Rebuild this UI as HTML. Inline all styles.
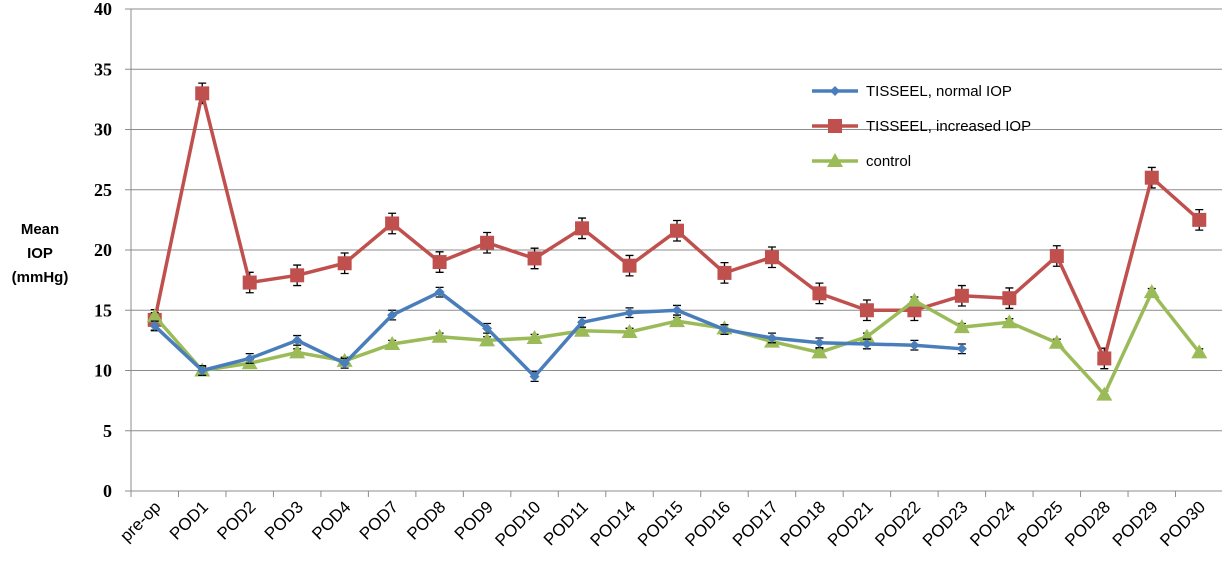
<!DOCTYPE html>
<html><head><meta charset="utf-8"><style>
body{margin:0;background:#fff;width:1222px;height:561px;overflow:hidden}
svg{display:block}
</style></head><body>
<svg id="chart" width="1222" height="561" xmlns="http://www.w3.org/2000/svg"></svg>
<script>
const categories=["pre-op","POD1","POD2","POD3","POD4","POD7","POD8","POD9","POD10","POD11","POD14","POD15","POD16","POD17","POD18","POD21","POD22","POD23","POD24","POD25","POD28","POD29","POD30"];
const normalValues=[13.7,10,11,12.5,10.6,14.6,16.5,13.5,9.5,14,14.8,15,13.4,12.7,12.3,12.2,12.1,11.8,null,null,null,null,null];
const increasedValues=[14.2,33,17.3,17.9,18.9,22.2,19,20.6,19.3,21.8,18.7,21.6,18.1,19.4,16.4,15,15,16.2,16,19.5,11,26,22.5];
const controlValues=[14.5,10,10.6,11.5,10.8,12.2,12.8,12.5,12.7,13.3,13.2,14.1,13.5,12.4,11.5,12.8,15.8,13.6,14,12.3,8,16.5,11.5];
const normalErr=0.4, increasedErr=0.85, controlErr=0.3;
const yTicks=[0,5,10,15,20,25,30,35,40];
const legendLabels=["TISSEEL, normal IOP","TISSEEL, increased IOP","control"];

const NS="http://www.w3.org/2000/svg";
const svg=document.getElementById('chart');
const L=131,R=1223,T=9,B=491,step=(R-L)/categories.length;
const xs=i=>L+step*(i+0.5);
const ys=v=>B-(v/40)*(B-T);
function mk(tag,a,parent){const e=document.createElementNS(NS,tag);for(const k in a)e.setAttribute(k,a[k]);(parent||svg).appendChild(e);return e;}

yTicks.forEach(t=>{
  if(t>0){const g=mk('line',{x1:L,x2:R,y1:ys(t),y2:ys(t),stroke:'#8c8c8c','stroke-width':1});
  
  }
  const tk=mk('line',{x1:L-6,x2:L,y1:ys(t),y2:ys(t),stroke:'#8c8c8c'});
  
  
  const tx=mk('text',{x:112,y:ys(t)+6,'text-anchor':'end','font-family':'Liberation Serif, serif','font-weight':'bold','font-size':18});
  tx.textContent=t;
  
  
});
const ax=mk('line',{x1:L,x2:L,y1:T,y2:B,stroke:'#8c8c8c'});


const xa=mk('line',{x1:L,x2:R,y1:B,y2:B,stroke:'#8c8c8c'});


categories.forEach((c,i)=>{
  const tk=mk('line',{x1:L+step*i,x2:L+step*i,y1:B,y2:B+6,stroke:'#8c8c8c'});
  
  
  const x=xs(i)+7,y=B+17;
  const tx=mk('text',{x:x,y:y,'text-anchor':'end','font-family':'Liberation Sans, sans-serif','font-size':17,transform:`rotate(-45 ${x} ${y})`});
  tx.textContent=c;
  
  
});
const yt=mk('text',{x:40,y:258,'text-anchor':'middle','font-family':'Liberation Sans, sans-serif','font-weight':'bold','font-size':15});


["Mean","IOP","(mmHg)"].forEach((s,k)=>{const sp=mk('tspan',{x:40,dy:k?24:-24},yt);sp.textContent=s;});

function marker(shape,x,y,color,g){
  if(shape==='diamond')return mk('path',{d:`M${x} ${y-5}L${x+5} ${y}L${x} ${y+5}L${x-5} ${y}Z`,fill:color},g);
  if(shape==='square')return mk('rect',{x:x-7,y:y-7,width:14,height:14,fill:color},g);
  return mk('path',{d:`M${x} ${y-8}L${x+8} ${y+6}L${x-8} ${y+6}Z`,fill:color},g);
}
function series(vals,err,color,shape,name){
  const g=mk('g',{});
  
  
  vals.forEach((v,i)=>{if(v==null)return;const x=xs(i);
    mk('path',{d:`M${x} ${ys(v+err)}V${ys(v-err)}M${x-4} ${ys(v+err)}H${x+4}M${x-4} ${ys(v-err)}H${x+4}`,stroke:'#000','stroke-width':1.3,fill:'none'},g);});
  let d='';vals.forEach((v,i)=>{if(v==null)return;d+=(d?'L':'M')+xs(i)+' '+ys(v);});
  mk('path',{d:d,stroke:color,'stroke-width':3.5,fill:'none','stroke-linejoin':'round'},g);
  vals.forEach((v,i)=>{if(v==null)return;const m=marker(shape,xs(i),ys(v),color,g);
    
    });
}
series(increasedValues,increasedErr,'#c0504d','square','series-increased-iop');
series(controlValues,controlErr,'#9bbb59','triangle','series-control');
series(normalValues,normalErr,'#4a7ebb','diamond','series-normal-iop');

const colors=['#4a7ebb','#c0504d','#9bbb59'],shapes=['diamond','square','triangle'];
legendLabels.forEach((s,k)=>{
  const y=91+k*35;
  const g=mk('g',{});
  
  
  mk('line',{x1:812,x2:858,y1:y,y2:y,stroke:colors[k],'stroke-width':3.5},g);
  marker(shapes[k],835,y,colors[k],g);
  const t=mk('text',{x:866,y:y+5,'font-family':'Liberation Sans, sans-serif','font-size':15},g);
  t.textContent=s;
});
</script>
</body></html>
